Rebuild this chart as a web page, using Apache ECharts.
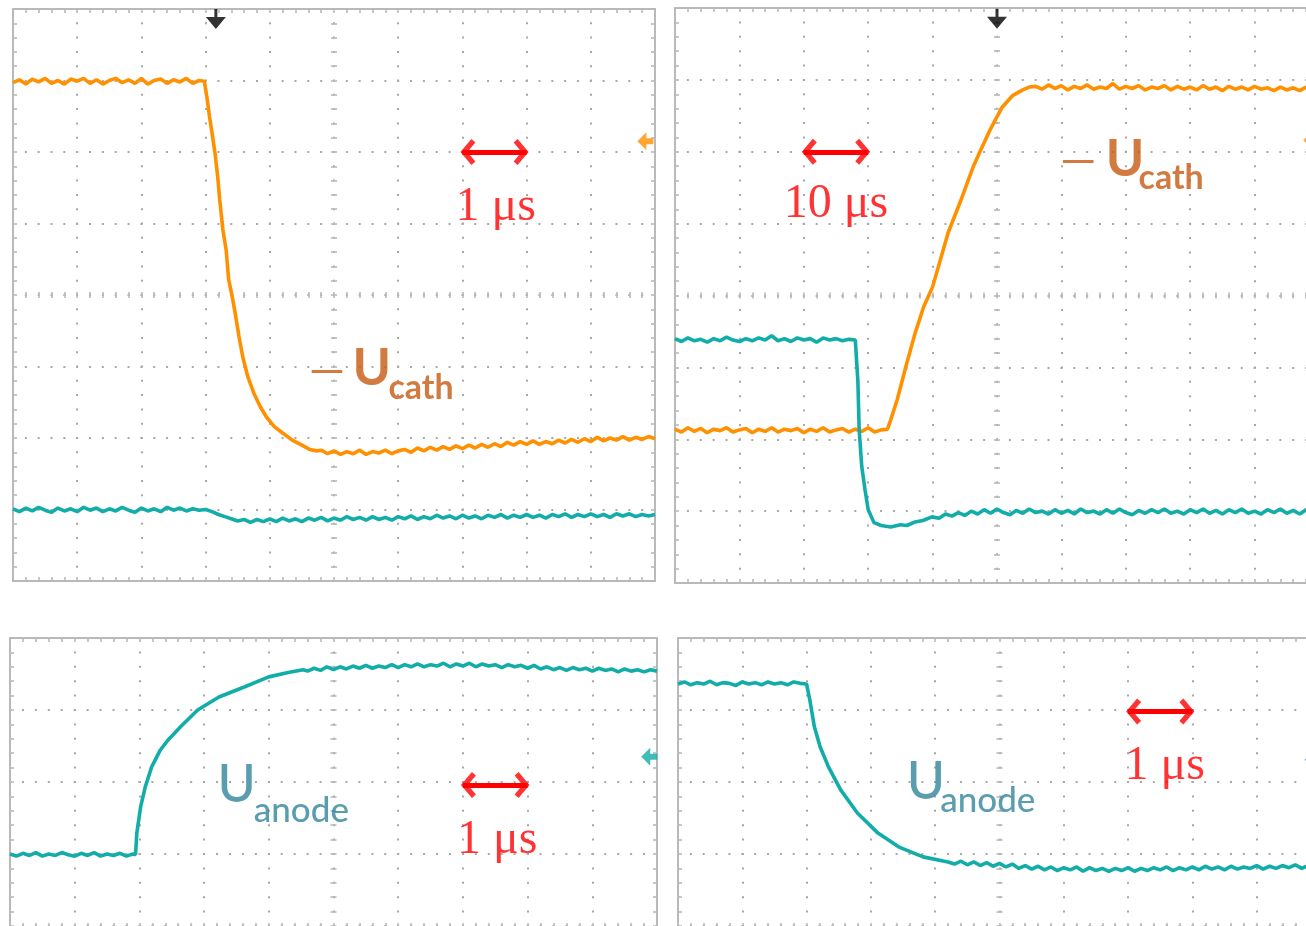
<!DOCTYPE html>
<html>
<head>
<meta charset="utf-8">
<script src="https://cdn.jsdelivr.net/npm/echarts@6/dist/echarts.min.js"></script>
<style>
html,body{margin:0;padding:0;background:#fff;}
#chart{width:1306px;height:926px;}
</style>
</head>
<body>
<div id="chart"></div>
<script>
// ---------------- DATA (x in µs, y in screen divisions) ----------------
// Panel 1 (1 µs/div): -U_cath (orange) and U_anode (cyan)
const p1Cath = [
[0,2.97],[0.1,3.01],[0.2,2.95],[0.3,3.02],[0.4,2.98],[0.5,3.03],[0.6,2.96],[0.7,3.00],[0.8,2.95],[0.9,3.02],
[1.0,2.99],[1.1,3.03],[1.2,2.96],[1.3,3.01],[1.4,2.95],[1.5,3.00],[1.6,3.03],[1.7,2.97],[1.8,3.01],[1.9,2.96],
[2.0,3.03],[2.1,2.95],[2.2,3.00],[2.3,3.02],[2.4,2.96],[2.5,3.01],[2.6,2.98],[2.7,3.03],[2.8,2.96],[2.9,3.00],
[2.98,2.99],[3.02,2.77],[3.06,2.50],[3.10,2.27],[3.15,1.96],[3.19,1.64],[3.22,1.33],[3.27,0.91],[3.32,0.63],[3.36,0.21],
[3.41,0.00],[3.46,-0.25],[3.52,-0.58],[3.58,-0.87],[3.66,-1.15],[3.75,-1.37],[3.85,-1.56],[3.95,-1.71],[4.07,-1.84],[4.20,-1.93],
[4.35,-2.03],[4.50,-2.10],[4.62,-2.16],[4.73,-2.18],[4.8,-2.17],[4.9,-2.22],[5.0,-2.18],[5.1,-2.23],[5.2,-2.19],[5.3,-2.22],
[5.4,-2.17],[5.5,-2.23],[5.6,-2.19],[5.7,-2.21],[5.8,-2.17],[5.9,-2.22],[6.0,-2.18],[6.1,-2.16],[6.2,-2.20],[6.3,-2.14],
[6.4,-2.18],[6.5,-2.13],[6.6,-2.17],[6.7,-2.12],[6.8,-2.16],[6.9,-2.11],[7.0,-2.15],[7.1,-2.10],[7.2,-2.14],[7.3,-2.09],
[7.4,-2.13],[7.5,-2.08],[7.6,-2.12],[7.7,-2.06],[7.8,-2.10],[7.9,-2.05],[8.0,-2.09],[8.1,-2.04],[8.2,-2.09],[8.3,-2.05],
[8.4,-2.08],[8.5,-2.03],[8.6,-2.07],[8.7,-2.02],[8.8,-2.06],[8.9,-2.01],[9.0,-2.05],[9.1,-1.99],[9.2,-2.04],[9.3,-2.00],
[9.4,-2.03],[9.5,-1.98],[9.6,-2.03],[9.7,-1.99],[9.8,-2.02],[9.9,-1.98],[10,-2.01]
];
const p1Anode = [
[0,-2.99],[0.1,-3.03],[0.2,-2.98],[0.3,-3.02],[0.4,-2.97],[0.5,-3.01],[0.6,-3.04],[0.7,-2.98],[0.8,-3.02],[0.9,-2.99],
[1.0,-3.03],[1.1,-2.97],[1.2,-3.01],[1.3,-2.98],[1.4,-3.03],[1.5,-2.99],[1.6,-3.02],[1.7,-2.97],[1.8,-3.01],[1.9,-3.04],
[2.0,-2.98],[2.1,-3.02],[2.2,-2.99],[2.3,-3.03],[2.4,-2.97],[2.5,-3.01],[2.6,-2.98],[2.7,-3.02],[2.8,-2.99],[2.9,-3.01],
[3.0,-3.00],[3.1,-3.03],[3.2,-3.07],[3.3,-3.10],[3.4,-3.13],[3.5,-3.16],[3.6,-3.14],[3.7,-3.18],[3.8,-3.14],[3.9,-3.17],
[4.0,-3.13],[4.1,-3.17],[4.2,-3.12],[4.3,-3.16],[4.4,-3.13],[4.5,-3.17],[4.6,-3.12],[4.7,-3.15],[4.8,-3.11],[4.9,-3.16],
[5.0,-3.12],[5.1,-3.15],[5.2,-3.10],[5.3,-3.14],[5.4,-3.11],[5.5,-3.15],[5.6,-3.10],[5.7,-3.14],[5.8,-3.11],[5.9,-3.15],
[6.0,-3.10],[6.1,-3.13],[6.2,-3.09],[6.3,-3.14],[6.4,-3.10],[6.5,-3.13],[6.6,-3.08],[6.7,-3.12],[6.8,-3.09],[6.9,-3.13],
[7.0,-3.08],[7.1,-3.12],[7.2,-3.09],[7.3,-3.13],[7.4,-3.08],[7.5,-3.11],[7.6,-3.07],[7.7,-3.12],[7.8,-3.08],[7.9,-3.11],
[8.0,-3.07],[8.1,-3.11],[8.2,-3.08],[8.3,-3.12],[8.4,-3.07],[8.5,-3.10],[8.6,-3.06],[8.7,-3.11],[8.8,-3.07],[8.9,-3.10],
[9.0,-3.06],[9.1,-3.10],[9.2,-3.07],[9.3,-3.11],[9.4,-3.06],[9.5,-3.09],[9.6,-3.06],[9.7,-3.10],[9.8,-3.07],[9.9,-3.09],[10,-3.07]
];
// Panel 2 (10 µs/div)
const p2Cath = [
[0,-1.86],[1,-1.90],[2,-1.84],[3,-1.89],[4,-1.85],[5,-1.91],[6,-1.86],[7,-1.88],[8,-1.84],[9,-1.90],
[10,-1.87],[11,-1.85],[12,-1.91],[13,-1.86],[14,-1.89],[15,-1.84],[16,-1.90],[17,-1.86],[18,-1.88],[19,-1.85],
[20,-1.91],[21,-1.86],[22,-1.89],[23,-1.84],[24,-1.90],[25,-1.87],[26,-1.85],[27,-1.90],[28,-1.86],[29,-1.89],
[30,-1.84],[31,-1.90],[32,-1.87],[33,-1.86],[33.5,-1.73],[34.5,-1.45],[36,-0.94],[37.3,-0.52],[38.6,-0.16],[40,0.12],
[42.4,0.87],[44.5,1.35],[46.3,1.79],[47.6,2.05],[48.9,2.30],[50.8,2.62],[52.4,2.78],[54,2.86],[55,2.90],
[56,2.91],[57,2.87],[58,2.93],[59,2.88],[60,2.92],[61,2.86],[62,2.91],[63,2.88],[64,2.93],[65,2.87],
[66,2.90],[67,2.88],[68,2.95],[69,2.87],[70,2.91],[71,2.88],[72,2.92],[73,2.86],[74,2.90],[75,2.88],
[76,2.92],[77,2.86],[78,2.91],[79,2.87],[80,2.90],[81,2.86],[82,2.92],[83,2.87],[84,2.90],[85,2.85],
[86,2.91],[87,2.87],[88,2.90],[89,2.86],[90,2.91],[91,2.87],[92,2.89],[93,2.85],[94,2.90],[95,2.86],
[96,2.89],[97,2.85],[98,2.90],[99,2.86],[100,2.88]
];
const p2Anode = [
[0,-0.60],[1,-0.64],[2,-0.59],[3,-0.63],[4,-0.61],[5,-0.65],[6,-0.60],[7,-0.63],[8,-0.58],[9,-0.62],
[10,-0.64],[11,-0.60],[12,-0.63],[13,-0.59],[14,-0.62],[15,-0.56],[16,-0.63],[17,-0.60],[18,-0.64],[19,-0.59],
[20,-0.62],[21,-0.60],[22,-0.65],[23,-0.59],[24,-0.62],[25,-0.60],[26,-0.63],[27,-0.61],[28,-0.62],
[28.3,-0.64],[28.4,-1.20],[28.6,-1.87],[29.0,-2.38],[29.5,-2.70],[30.0,-2.98],[30.9,-3.16],[32,-3.20],[33.5,-3.22],[35,-3.19],
[36,-3.20],[37.3,-3.15],[38.5,-3.13],[39.9,-3.08],[41,-3.10],[42,-3.04],[43,-3.07],[44,-3.02],[45,-3.06],[46,-3.00],
[47,-3.04],[48,-2.98],[49,-3.03],[50,-2.97],[51,-3.02],[52,-3.05],[53,-2.99],[54,-3.03],[55,-2.97],[56,-3.02],
[57,-3.00],[58,-3.04],[59,-2.98],[60,-3.03],[61,-2.99],[62,-3.04],[63,-2.97],[64,-3.02],[65,-3.00],[66,-3.04],
[67,-2.98],[68,-3.03],[69,-2.97],[70,-3.02],[71,-3.05],[72,-2.99],[73,-3.03],[74,-2.98],[75,-3.02],[76,-2.97],
[77,-3.03],[78,-3.00],[79,-3.04],[80,-2.98],[81,-3.02],[82,-2.97],[83,-3.03],[84,-2.99],[85,-3.04],[86,-2.98],
[87,-3.02],[88,-2.97],[89,-3.03],[90,-3.00],[91,-3.04],[92,-2.98],[93,-3.02],[94,-2.97],[95,-3.03],[96,-2.99],
[97,-3.04],[98,-2.98],[99,-3.02],[100,-3.00]
];
// Panel 3 (1 µs/div): U_anode rising
const p3Anode = [
[0,1.00],[0.1,0.97],[0.2,1.01],[0.3,0.98],[0.4,1.02],[0.5,0.97],[0.6,1.00],[0.7,0.98],[0.8,1.02],[0.9,0.99],
[1.0,0.97],[1.1,1.01],[1.2,0.98],[1.3,1.02],[1.4,0.97],[1.5,1.00],[1.6,0.98],[1.7,1.01],[1.8,0.97],[1.9,1.00],
[1.94,0.99],[1.96,1.29],[2.02,1.66],[2.09,1.93],[2.19,2.21],[2.32,2.44],[2.44,2.58],[2.64,2.77],[2.90,3.00],[3.23,3.18],
[3.62,3.32],[4.0,3.46],[4.3,3.52],[4.53,3.56],[4.6,3.54],[4.7,3.58],[4.8,3.55],[4.9,3.60],[5.0,3.56],[5.1,3.60],
[5.2,3.57],[5.3,3.61],[5.4,3.58],[5.5,3.62],[5.6,3.58],[5.7,3.61],[5.8,3.59],[5.9,3.63],[6.0,3.59],[6.1,3.63],
[6.2,3.60],[6.3,3.64],[6.4,3.60],[6.5,3.63],[6.6,3.61],[6.7,3.65],[6.8,3.60],[6.9,3.64],[7.0,3.61],[7.1,3.65],
[7.2,3.60],[7.3,3.64],[7.4,3.61],[7.5,3.63],[7.6,3.59],[7.7,3.63],[7.8,3.60],[7.9,3.62],[8.0,3.58],[8.1,3.62],
[8.2,3.57],[8.3,3.60],[8.4,3.56],[8.5,3.59],[8.6,3.55],[8.7,3.59],[8.8,3.56],[8.9,3.58],[9.0,3.54],[9.1,3.58],
[9.2,3.55],[9.3,3.57],[9.4,3.53],[9.5,3.57],[9.6,3.54],[9.7,3.56],[9.8,3.53],[9.9,3.56],[10,3.54]
];
// Panel 4 (1 µs/div): U_anode falling
const p4Anode = [
[0,3.36],[0.1,3.39],[0.2,3.35],[0.3,3.38],[0.4,3.36],[0.5,3.40],[0.6,3.35],[0.7,3.38],[0.8,3.37],[0.9,3.34],
[1.0,3.39],[1.1,3.36],[1.2,3.38],[1.3,3.35],[1.4,3.39],[1.5,3.36],[1.6,3.38],[1.7,3.35],[1.8,3.39],[1.9,3.37],[2.0,3.36],
[2.02,3.37],[2.05,3.14],[2.12,2.77],[2.21,2.49],[2.34,2.21],[2.53,1.89],[2.79,1.57],[3.11,1.29],[3.43,1.10],[3.81,0.96],
[4.2,0.89],[4.3,0.86],[4.4,0.90],[4.5,0.85],[4.6,0.89],[4.7,0.84],[4.8,0.88],[4.9,0.83],[5.0,0.87],[5.1,0.82],
[5.2,0.86],[5.3,0.80],[5.4,0.84],[5.5,0.79],[5.6,0.83],[5.7,0.78],[5.8,0.82],[5.9,0.77],[6.0,0.81],[6.1,0.78],
[6.2,0.82],[6.3,0.76],[6.4,0.81],[6.5,0.77],[6.6,0.80],[6.7,0.76],[6.8,0.80],[6.9,0.77],[7.0,0.81],[7.1,0.76],
[7.2,0.80],[7.3,0.77],[7.4,0.81],[7.5,0.78],[7.6,0.82],[7.7,0.77],[7.8,0.81],[7.9,0.78],[8.0,0.82],[8.1,0.78],
[8.2,0.83],[8.3,0.79],[8.4,0.82],[8.5,0.78],[8.6,0.83],[8.7,0.79],[8.8,0.82],[8.9,0.80],[9.0,0.84],[9.1,0.79],
[9.2,0.83],[9.3,0.80],[9.4,0.84],[9.5,0.81],[9.6,0.85],[9.7,0.80],[9.8,0.84],[9.9,0.81],[10,0.84]
];

// Axis ranges per panel: [min, max, interval] (x in µs), y in divisions
const xRanges = [[0,10,1],[0,100,10],[0,10,1],[0,10,1]];
const yRange = [-4,4,1];

// Scale bars (double arrow spans one division) and their captions
const scaleBars = [
  {g:0, from:7,  to:8,  y:2.0,  text:'1 μs',  tx:7.52, ty:1.22},
  {g:1, from:20, to:30, y:2.0,  text:'10 μs', tx:25.0, ty:1.27},
  {g:2, from:7,  to:8,  y:1.96, text:'1 μs',  tx:7.53, ty:1.19},
  {g:3, from:7,  to:8,  y:2.98, text:'1 μs',  tx:7.57, ty:2.21}
];
// Trace names: anchor points (data units) for the minus sign, the "U" and the subscript
const traceNames = [
  {g:0, kind:'cath',  dash:[4.60,-1.05], U:[5.28,-1.02], sub:[5.84,-1.30]},
  {g:1, kind:'cath',  dash:[59.7,1.88],  U:[66.8,1.90],  sub:[71.9,1.63]},
  {g:2, kind:'anode', U:[3.20,1.96], sub:[3.76,1.60]},
  {g:3, kind:'anode', U:[3.55,2.00], sub:[4.07,1.74]}
];
// Scope markers: trigger position (top) and channel level (right edge)
const triggerMarks = [{g:0, x:3.16, y:3.86}, {g:1, x:50, y:3.85}];
const levelMarks = [
  {g:0, x:9.85, y:2.15, ch:'cath'}, {g:1, x:98.8, y:2.16, ch:'cath'},
  {g:2, x:9.88, y:2.35, ch:'anode'}, {g:3, x:9.87, y:2.31, ch:'anode'}
];

// ---------------- STYLE / LAYOUT ----------------
const boxes = [
  {left:13,  top:9,   width:642, height:572},
  {left:675, top:8,   width:644, height:575},
  {left:10,  top:638, width:647, height:576},
  {left:678, top:638, width:643, height:576}
];
const ORANGE = '#FF9000', CYAN = '#12ADA8';
const CATH_TXT = '#C55A11', ANODE_TXT = '#31849B', RED = '#FF0000';
const FRAME = '#b9b9b9', DOT = '#a8a8a8';

const chevL = 'path://M0,13 L11,0 L15,3.5 L7,13 L15,22.5 L11,26 Z';
const chevR = 'path://M15,13 L4,0 L0,3.5 L8,13 L0,22.5 L4,26 Z';
const trigPath = 'path://M8.5,0 L11.5,0 L11.5,8 L20,8 L10,20 L0,8 L8.5,8 Z';
const levelPath = 'path://M0,9 L9,0 L9,6 L16,6 L16,12 L9,12 L9,18 Z';

const chart = echarts.init(document.getElementById('chart'), null, {renderer:'canvas'});

const xAxes = [], yAxes = [], series = [];
function tick(len, inside){ return {show:true, inside:inside, length:len, lineStyle:{color:FRAME, width:1.6}}; }
function minor(len){ return {show:true, splitNumber:5, length:len, lineStyle:{color:FRAME, width:1.6}}; }

boxes.forEach((b, gi) => {
  const [xmn, xmx, xiv] = xRanges[gi];
  const bx = {gridIndex:gi, type:'value', min:xmn, max:xmx, interval:xiv, silent:true,
              axisLabel:{show:false}, splitLine:{show:false}};
  const by = {gridIndex:gi, type:'value', min:yRange[0], max:yRange[1], interval:yRange[2], silent:true,
              axisLabel:{show:false}, splitLine:{show:false}};
  const frameLine = {show:true, onZero:false, lineStyle:{color:FRAME, width:2}};
  const vDot = b.height / 40, hDot = b.width / 50;
  xAxes.push(Object.assign({}, bx, {position:'bottom', axisLine:frameLine, axisTick:tick(4,true), minorTick:minor(4),
    splitLine:{show:true, lineStyle:{color:DOT, width:2, type:[2, vDot-2], dashOffset:1}}}));
  xAxes.push(Object.assign({}, bx, {position:'top', axisLine:frameLine, axisTick:tick(4,true), minorTick:minor(4)}));
  xAxes.push(Object.assign({}, bx, {position:'bottom', offset:-(b.height/2+3), axisLine:{show:false, onZero:false},
    axisTick:tick(6,false), minorTick:minor(6)}));
  yAxes.push(Object.assign({}, by, {position:'left', axisLine:frameLine, axisTick:tick(4,true), minorTick:minor(4),
    splitLine:{show:true, lineStyle:{color:DOT, width:2, type:[2, hDot-2], dashOffset:1}}}));
  yAxes.push(Object.assign({}, by, {position:'right', axisLine:frameLine, axisTick:tick(4,true), minorTick:minor(4)}));
  yAxes.push(Object.assign({}, by, {position:'left', offset:-(b.width/2+3), axisLine:{show:false, onZero:false},
    axisTick:tick(6,false), minorTick:minor(6)}));
});

function trace(gi, data, color, name){
  return {type:'line', name:name, xAxisIndex:3*gi, yAxisIndex:3*gi, data:data, showSymbol:false, symbol:'none',
          smooth:false, silent:true, clip:true, z:3, lineStyle:{color:color, width:3.6}};
}
series.push(trace(0, p1Cath, ORANGE, '-U_cath'));
series.push(trace(0, p1Anode, CYAN, 'U_anode'));
series.push(trace(1, p2Cath, ORANGE, '-U_cath'));
series.push(trace(1, p2Anode, CYAN, 'U_anode'));
series.push(trace(2, p3Anode, CYAN, 'U_anode'));
series.push(trace(3, p4Anode, CYAN, 'U_anode'));

// annotations
boxes.forEach((b, gi) => {
  const items = [];
  const sb = scaleBars.find(s => s.g === gi);
  items.push({value:[sb.tx, sb.ty], label:{show:true, position:'inside', formatter:sb.text,
    color:RED, fontFamily:'Liberation Serif', fontSize:48, fontWeight:'normal'}});
  items.push({value:[sb.from, sb.y], symbol:chevL, symbolSize:[15,26], symbolOffset:[5.5,0], itemStyle:{color:RED}});
  items.push({value:[sb.to, sb.y], symbol:chevR, symbolSize:[15,26], symbolOffset:[-5.5,0], itemStyle:{color:RED}});
  const tn = traceNames.find(t => t.g === gi);
  const isCath = tn.kind === 'cath';
  const col = isCath ? CATH_TXT : ANODE_TXT;
  const wt = isCath ? 'bold' : '500';
  if (tn.dash) items.push({value:tn.dash, label:{show:true, position:'right', distance:0, formatter:'—',
    color:col, fontFamily:'Lato', fontSize:46, fontWeight:'normal'}});
  items.push({value:tn.U, label:{show:true, position:'right', distance:0, formatter:'U',
    color:col, fontFamily:'Lato', fontSize:52, fontWeight:wt}});
  items.push({value:tn.sub, label:{show:true, position:'right', distance:0, formatter:tn.kind,
    color:col, fontFamily:'Lato', fontSize:isCath ? 34 : 35, fontWeight:wt}});
  series.push({type:'scatter', xAxisIndex:3*gi, yAxisIndex:3*gi, silent:true, z:10, symbolSize:1, clip:false,
    itemStyle:{color:'rgba(0,0,0,0)'}, data:items,
    markLine:{silent:true, animation:false, symbol:'none', label:{show:false}, emphasis:{disabled:true},
      lineStyle:{color:RED, width:5, type:'solid'},
      data:[[{coord:[sb.from, sb.y]}, {coord:[sb.to, sb.y]}]]}});
  const marks = [];
  triggerMarks.filter(m => m.g === gi).forEach(m => marks.push({value:[m.x, m.y], symbol:trigPath,
    symbolSize:[20,20], itemStyle:{color:'#000'}}));
  levelMarks.filter(m => m.g === gi).forEach(m => marks.push({value:[m.x, m.y], symbol:levelPath,
    symbolSize:[16,18], itemStyle:{color:m.ch === 'cath' ? ORANGE : CYAN}}));
  series.push({type:'scatter', xAxisIndex:3*gi, yAxisIndex:3*gi, silent:true, z:9, clip:false, data:marks});
});

chart.setOption({
  animation:false,
  backgroundColor:'#ffffff',
  grid: boxes.map(b => ({left:b.left, top:b.top, width:b.width, height:b.height, show:false,
    containLabel:false, outerBoundsMode:'none'})),
  xAxis: xAxes,
  yAxis: yAxes,
  series: series
});
</script>
</body>
</html>
